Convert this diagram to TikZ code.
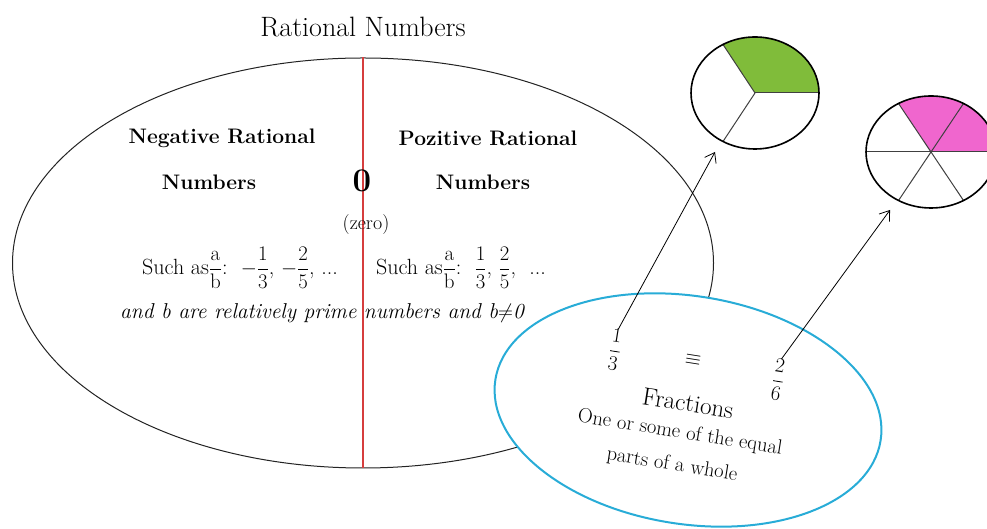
\documentclass[tikz,border=0pt]{standalone}
\usepackage{amsmath}
\usepackage{fontspec}
\usepackage{xcolor}
\usepackage{tikz}
\usetikzlibrary{arrows.meta,shapes.geometric}
\definecolor{rnedge}{RGB}{35,35,35}
\definecolor{rnred}{RGB}{214,62,62}
\definecolor{rnblue}{RGB}{40,172,215}
\definecolor{rngreen}{RGB}{128,188,58}
\definecolor{rnpink}{RGB}{240,102,206}
\newcommand{\rnfr}[2]{{\fontsize{21}{23}\selectfont$\dfrac{#1}{#2}$}}
\tikzset{
  rnhead/.style={font=\fontsize{21}{24}\selectfont\bfseries, inner sep=0pt},
  rntxt/.style={font=\fontsize{20}{23}\selectfont, inner sep=0pt},
  suchtxt/.style={font=\fontsize{22}{25}\selectfont, inner sep=0pt},
  frtxt/.style={font=\fontsize{20.5}{23}\selectfont, inner sep=0pt, rotate=-9},
  pieline/.style={draw=black, line width=1.6pt},
  spoke/.style={draw=black!75, line width=1pt},
  arr/.style={-{Straight Barb[length=9pt,width=13pt]}, draw=black, line width=0.8pt},
  every picture/.append style={x=1pt, y=1pt}
}

\begin{document}
\begin{tikzpicture}
  \useasboundingbox (0,0) rectangle (987,529);
  \clip (0,0) rectangle (987,529);
  \node[ellipse, draw=rnedge, line width=1pt, inner sep=0pt,
    minimum width=701pt, minimum height=410pt] (rat) at (363,266) {};
  \draw[rnred, line width=1.4pt] (rat.north) -- (rat.south);
  \node[rntxt, font=\fontsize{28}{32}\selectfont] (title) at (363,502) {Rational Numbers};
  \node[rnhead] (negA) at (222,391) {Negative Rational};
  \node[rnhead] (negB) at (209,347) {Numbers};
  \node[rnhead] (posA) at (488,391) {Pozitive Rational};
  \node[rnhead] (posB) at (483,347) {Numbers};
  \node[rnhead, font=\fontsize{33}{36}\selectfont\bfseries] (zero) at (362,348) {0};
  \node[rntxt] (zerotxt) at (366,304) {(zero)};
  \node[suchtxt] (suchneg) at (240,261)
    {Such as\rnfr{\mathrm{a}}{\mathrm{b}}:\ \ $-$\rnfr{1}{3}, $-$\rnfr{2}{5}, ...};
  \node[suchtxt] (suchpos) at (461,261)
    {Such as\rnfr{\mathrm{a}}{\mathrm{b}}:\ \ \rnfr{1}{3}, \rnfr{2}{5},\ \ ...};
  \node[rntxt, font=\fontsize{21.5}{25}\selectfont\itshape] (cond) at (322,216)
    {and b are relatively prime numbers and b$\neq$0};

  \coordinate (gc) at (755,436);
  \fill[rngreen] (gc) -- ++(64,0) arc[start angle=0, end angle=120, x radius=64, y radius=56] -- cycle;
  \foreach \a in {0,120,240}
    \draw[spoke] (gc) -- ++({64*cos(\a)},{56*sin(\a)});
  \node[ellipse, pieline, inner sep=0pt, minimum width=128pt, minimum height=112pt] (pieA) at (gc) {};

  \coordinate (pc) at (931,377);
  \fill[rnpink] (pc) -- ++(65,0) arc[start angle=0, end angle=120, x radius=65, y radius=56] -- cycle;
  \foreach \a in {0,60,...,300}
    \draw[spoke] (pc) -- ++({65*cos(\a)},{56*sin(\a)});
  \node[ellipse, pieline, inner sep=0pt, minimum width=130pt, minimum height=112pt] (pieB) at (pc) {};

  \node[ellipse, draw=rnblue, fill=white, line width=2pt, inner sep=0pt,
    minimum width=390pt, minimum height=228pt, rotate=-9] (frac) at (688,119) {};
  \node[frtxt, font=\fontsize{22}{24}\selectfont] (f13) at (615,179) {$\displaystyle\frac{1}{3}$};
  \node[frtxt, font=\fontsize{22}{24}\selectfont] (eqv) at (693,169) {$\equiv$};
  \node[frtxt, font=\fontsize{22}{24}\selectfont] (f26) at (778,149) {$\displaystyle\frac{2}{6}$};
  \node[frtxt, font=\fontsize{25}{28}\selectfont] (fname) at (688,126) {Fractions};
  \node[frtxt] (def1) at (680,96) {One or some of the equal};
  \node[frtxt] (def2) at (672,64) {parts of a whole};

  \coordinate (tipA) at (715,377);
  \coordinate (tipB) at (890,319);
  \draw[arr] (f13.north) -- (tipA);
  \draw[arr] (f26.north) -- (tipB);
\end{tikzpicture}
\end{document}
